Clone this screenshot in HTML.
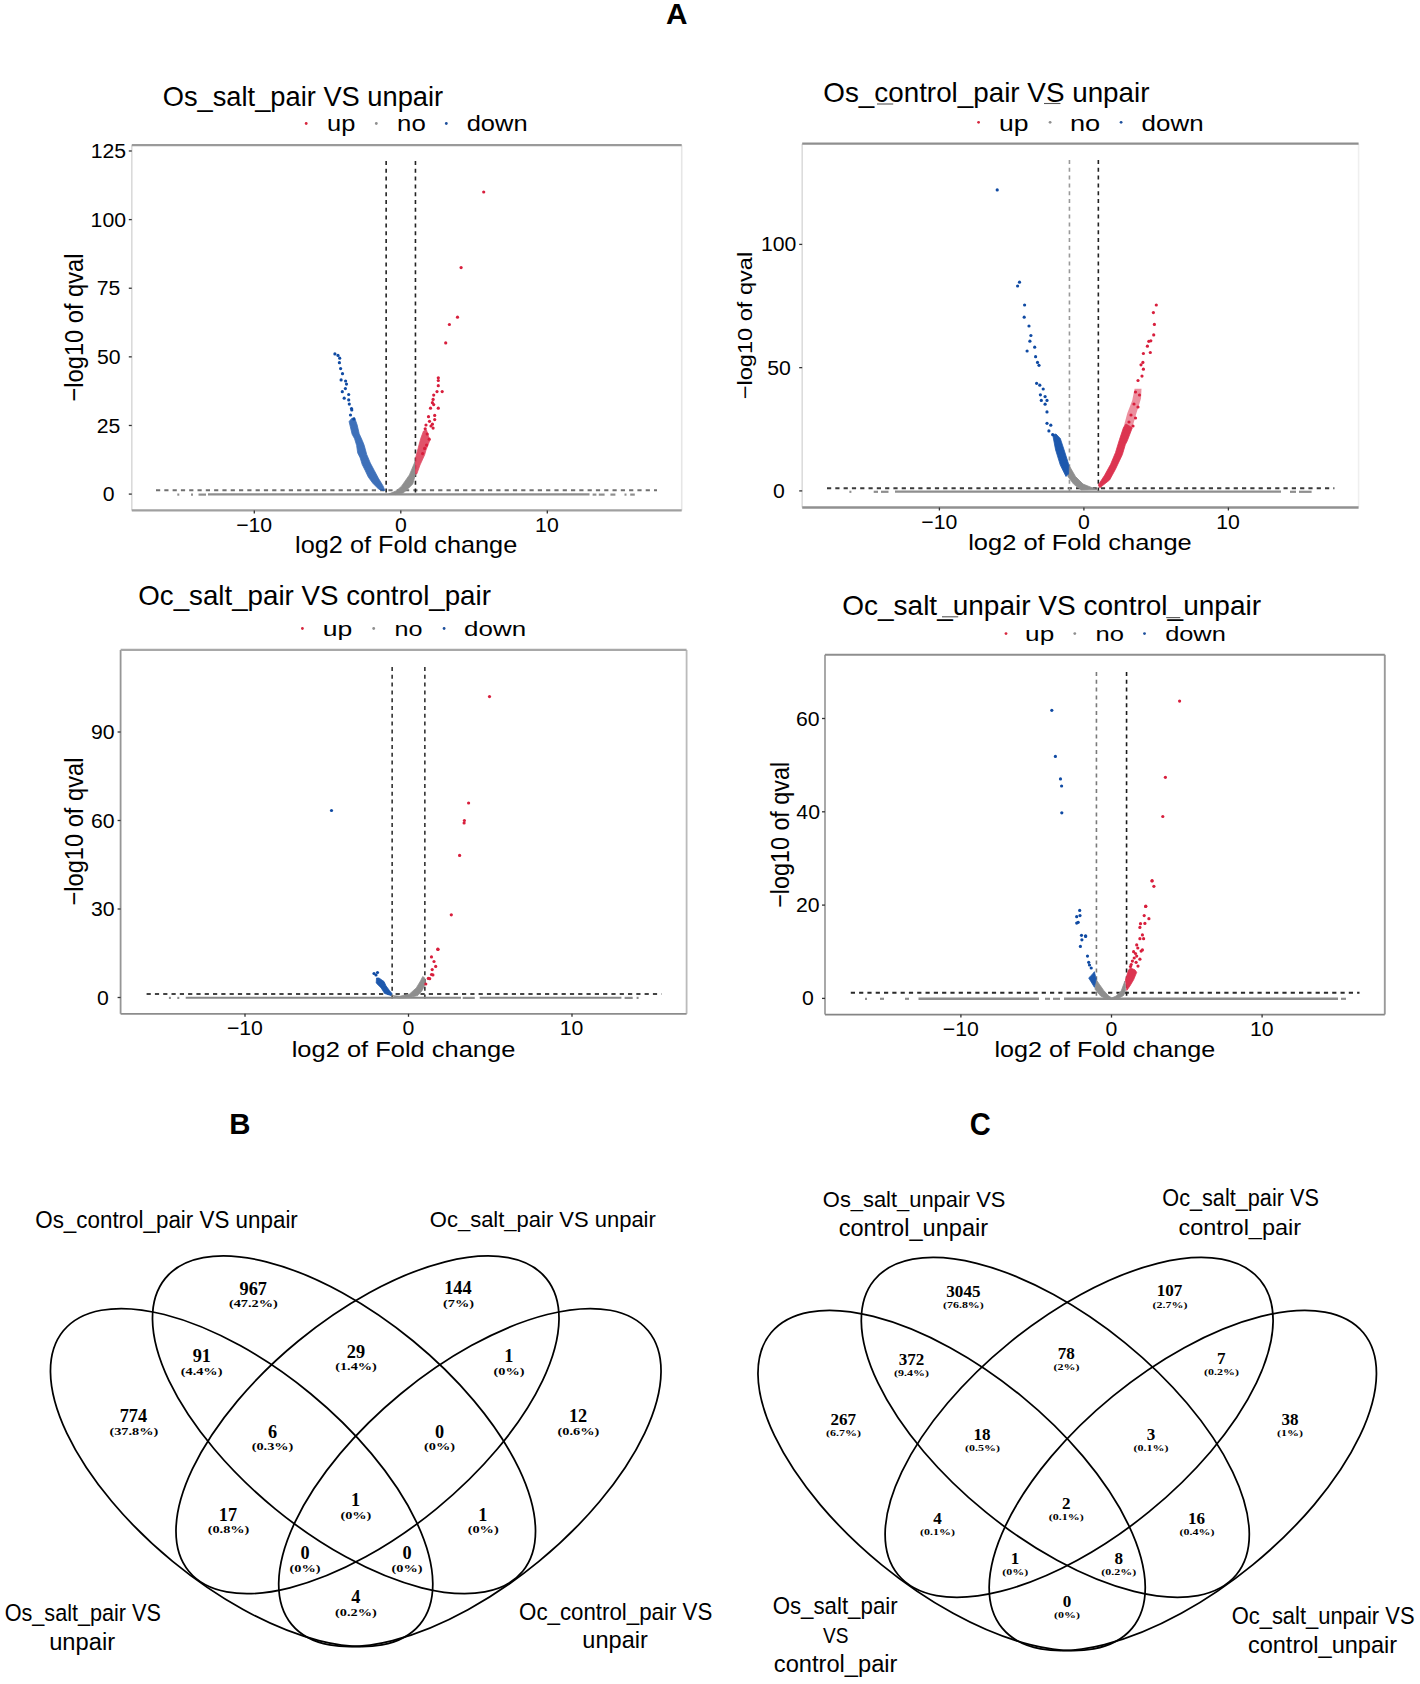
<!DOCTYPE html>
<html><head><meta charset="utf-8"><title>Figure</title>
<style>html,body{margin:0;padding:0;background:#fff;overflow:hidden;}svg{display:block;}</style></head>
<body><svg width="1420" height="1684" viewBox="0 0 1420 1684">
<rect width="1420" height="1684" fill="#fff"/>
<text transform="translate(666.06,23.90) scale(1.0005,1)" font-family='"Liberation Sans", sans-serif' font-size="29.80" font-weight="bold" fill="#000">A</text>
<text transform="translate(229.14,1134.30) scale(0.9899,1)" font-family='"Liberation Sans", sans-serif' font-size="29.65" font-weight="bold" fill="#000">B</text>
<text transform="translate(969.81,1134.70) scale(0.9482,1)" font-family='"Liberation Sans", sans-serif' font-size="30.65" font-weight="bold" fill="#000">C</text>
<line x1="131.8" y1="145.2" x2="131.8" y2="510.4" stroke="#dadada" stroke-width="1.6"/>
<line x1="681.7" y1="145.2" x2="681.7" y2="510.4" stroke="#e6e6e6" stroke-width="1.6"/>
<line x1="131.8" y1="145.2" x2="681.7" y2="145.2" stroke="#9a9a9a" stroke-width="2.3"/>
<line x1="131.8" y1="510.4" x2="681.7" y2="510.4" stroke="#a0a0a0" stroke-width="2.3"/>
<line x1="128.8" y1="494.10" x2="131.8" y2="494.10" stroke="#333" stroke-width="1.3"/>
<text transform="translate(102.80,501.17) scale(1.0500,1)" font-family='"Liberation Sans", sans-serif' font-size="20.20" fill="#000">0</text>
<line x1="128.8" y1="425.48" x2="131.8" y2="425.48" stroke="#333" stroke-width="1.3"/>
<text transform="translate(96.82,432.55) scale(1.0500,1)" font-family='"Liberation Sans", sans-serif' font-size="20.20" fill="#000">25</text>
<line x1="128.8" y1="356.85" x2="131.8" y2="356.85" stroke="#333" stroke-width="1.3"/>
<text transform="translate(96.89,363.92) scale(1.0500,1)" font-family='"Liberation Sans", sans-serif' font-size="20.20" fill="#000">50</text>
<line x1="128.8" y1="288.23" x2="131.8" y2="288.23" stroke="#333" stroke-width="1.3"/>
<text transform="translate(96.81,295.30) scale(1.0500,1)" font-family='"Liberation Sans", sans-serif' font-size="20.20" fill="#000">75</text>
<line x1="128.8" y1="219.60" x2="131.8" y2="219.60" stroke="#333" stroke-width="1.3"/>
<text transform="translate(90.61,226.67) scale(1.0500,1)" font-family='"Liberation Sans", sans-serif' font-size="20.20" fill="#000">100</text>
<line x1="128.8" y1="150.98" x2="131.8" y2="150.98" stroke="#333" stroke-width="1.3"/>
<text transform="translate(90.64,158.05) scale(1.0500,1)" font-family='"Liberation Sans", sans-serif' font-size="20.20" fill="#000">125</text>
<line x1="254.30" y1="510.4" x2="254.30" y2="513.4" stroke="#333" stroke-width="1.3"/>
<text transform="translate(236.20,532.30) scale(1.0500,1)" font-family='"Liberation Sans", sans-serif' font-size="20.20" fill="#000">−10</text>
<line x1="400.80" y1="510.4" x2="400.80" y2="513.4" stroke="#333" stroke-width="1.3"/>
<text transform="translate(394.90,532.30) scale(1.0500,1)" font-family='"Liberation Sans", sans-serif' font-size="20.20" fill="#000">0</text>
<line x1="547.30" y1="510.4" x2="547.30" y2="513.4" stroke="#333" stroke-width="1.3"/>
<text transform="translate(535.11,532.30) scale(1.0500,1)" font-family='"Liberation Sans", sans-serif' font-size="20.20" fill="#000">10</text>
<line x1="156" y1="490.3" x2="657" y2="490.3" stroke="#707070" stroke-width="1.9" stroke-dasharray="4.2 4.1"/>
<line x1="386.15" y1="161" x2="386.15" y2="495.1" stroke="#222" stroke-width="1.6" stroke-dasharray="4 3.8"/>
<line x1="415.45" y1="161" x2="415.45" y2="495.1" stroke="#222" stroke-width="1.6" stroke-dasharray="4 3.8"/>
<line x1="208" y1="494.4" x2="589.5" y2="494.4" stroke="#8e8e8e" stroke-width="2.4"/><line x1="592.6" y1="494.6" x2="596.4" y2="494.6" stroke="#8e8e8e" stroke-width="2.2"/><line x1="598.8" y1="494.6" x2="604.6" y2="494.6" stroke="#8e8e8e" stroke-width="2.2"/><line x1="610.4" y1="494.6" x2="615.4" y2="494.6" stroke="#8e8e8e" stroke-width="2.2"/><line x1="624.5" y1="494.6" x2="626.5" y2="494.6" stroke="#8e8e8e" stroke-width="2.2"/><line x1="630.2" y1="494.6" x2="634.8" y2="494.6" stroke="#8e8e8e" stroke-width="2.2"/><line x1="177.3" y1="494.6" x2="179.3" y2="494.6" stroke="#8e8e8e" stroke-width="2.2"/><line x1="191" y1="494.6" x2="193" y2="494.6" stroke="#8e8e8e" stroke-width="2.2"/><line x1="198.5" y1="494.6" x2="206" y2="494.6" stroke="#8e8e8e" stroke-width="2.2"/><polygon points="388.6,494.1 396.5,490.7 401.5,486.2 409.4,474.9 415.1,461.4 415.6,473.8 412.8,483.9 408.3,488.5 403.2,493.0 396.0,494.6" fill="#8e8e8e" stroke="#8e8e8e" stroke-width="0.8" stroke-linejoin="round" opacity="1"/><polygon points="349.1,421.6 352.1,434.2 354.6,438.8 356.6,445.3 357.7,452.9 360.2,457.9 362.2,464.5 365.2,470.5 368.3,477.1 372.8,483.2 378.8,489.2 382.9,490.7 384.8,490.5 384.4,489.2 382.9,485.7 378.3,478.1 374.3,470.5 370.3,463.0 366.7,454.4 364.2,445.3 362.2,440.3 359.2,433.7 357.2,425.1 354.6,417.6 351.5,418.5" fill="#1d58ad" stroke="#1d58ad" stroke-width="0.8" stroke-linejoin="round" opacity="0.85"/><circle cx="334.9" cy="353.9" r="1.6" fill="#0f4aa3"/><circle cx="338.0" cy="355.4" r="1.6" fill="#0f4aa3"/><circle cx="339.7" cy="358.2" r="1.6" fill="#0f4aa3"/><circle cx="339.4" cy="362.7" r="1.6" fill="#0f4aa3"/><circle cx="340.6" cy="368.6" r="1.6" fill="#0f4aa3"/><circle cx="342.5" cy="373.7" r="1.6" fill="#0f4aa3"/><circle cx="341.1" cy="379.9" r="1.6" fill="#0f4aa3"/><circle cx="345.6" cy="381.0" r="1.6" fill="#0f4aa3"/><circle cx="346.5" cy="384.1" r="1.6" fill="#0f4aa3"/><circle cx="345.4" cy="388.6" r="1.6" fill="#0f4aa3"/><circle cx="342.3" cy="391.7" r="1.6" fill="#0f4aa3"/><circle cx="348.7" cy="394.5" r="1.6" fill="#0f4aa3"/><circle cx="344.2" cy="398.2" r="1.6" fill="#0f4aa3"/><circle cx="348.7" cy="399.9" r="1.6" fill="#0f4aa3"/><circle cx="349.3" cy="404.1" r="1.6" fill="#0f4aa3"/><circle cx="351.5" cy="408.6" r="1.6" fill="#0f4aa3"/><circle cx="351.8" cy="410.0" r="1.6" fill="#0f4aa3"/><circle cx="353.8" cy="419.0" r="1.6" fill="#0f4aa3"/><circle cx="350.5" cy="415.0" r="1.6" fill="#0f4aa3"/><polygon points="415.5,474.0 415.5,458.2 418.1,448.4 420.7,438.6 423.5,431.0 426.5,430.0 429.8,440.5 426.0,450.0 424.6,454.9 420.0,465.0 416.8,473.9" fill="#dc3450" stroke="#dc3450" stroke-width="0.8" stroke-linejoin="round" opacity="0.85"/><circle cx="438.3" cy="377.8" r="1.6" fill="#d81e3c"/><circle cx="438.3" cy="380.5" r="1.6" fill="#d81e3c"/><circle cx="438.3" cy="385.7" r="1.6" fill="#d81e3c"/><circle cx="442.2" cy="391.6" r="1.6" fill="#d81e3c"/><circle cx="437.0" cy="391.6" r="1.6" fill="#d81e3c"/><circle cx="433.7" cy="395.1" r="1.6" fill="#d81e3c"/><circle cx="433.1" cy="399.4" r="1.6" fill="#d81e3c"/><circle cx="432.4" cy="402.7" r="1.6" fill="#d81e3c"/><circle cx="433.7" cy="404.6" r="1.6" fill="#d81e3c"/><circle cx="430.5" cy="408.2" r="1.6" fill="#d81e3c"/><circle cx="438.3" cy="408.2" r="1.6" fill="#d81e3c"/><circle cx="434.7" cy="415.4" r="1.6" fill="#d81e3c"/><circle cx="428.5" cy="416.7" r="1.6" fill="#d81e3c"/><circle cx="434.7" cy="419.6" r="1.6" fill="#d81e3c"/><circle cx="429.5" cy="421.3" r="1.6" fill="#d81e3c"/><circle cx="432.4" cy="424.2" r="1.6" fill="#d81e3c"/><circle cx="433.1" cy="428.1" r="1.6" fill="#d81e3c"/><circle cx="425.2" cy="428.8" r="1.6" fill="#d81e3c"/><circle cx="427.2" cy="434.0" r="1.6" fill="#d81e3c"/><circle cx="429.2" cy="439.2" r="1.6" fill="#d81e3c"/><circle cx="426.6" cy="445.1" r="1.6" fill="#d81e3c"/><circle cx="424.6" cy="448.4" r="1.6" fill="#d81e3c"/><circle cx="422.6" cy="453.6" r="1.6" fill="#d81e3c"/><circle cx="431.0" cy="426.0" r="1.6" fill="#d81e3c"/><circle cx="426.0" cy="425.0" r="1.6" fill="#d81e3c"/><circle cx="445.7" cy="342.9" r="1.6" fill="#d81e3c"/><circle cx="449.4" cy="324.5" r="1.6" fill="#d81e3c"/><circle cx="457.5" cy="317.2" r="1.6" fill="#d81e3c"/><circle cx="461.1" cy="267.6" r="1.6" fill="#d81e3c"/><circle cx="483.7" cy="192.0" r="1.6" fill="#d81e3c"/>
<text transform="translate(162.71,105.90) scale(0.9835,1)" font-family='"Liberation Sans", sans-serif' font-size="27.74" fill="#000">Os_salt_pair VS unpair</text>
<circle cx="306.2" cy="123.5" r="1.4" fill="#d7263d"/>
<circle cx="376.3" cy="123.5" r="1.4" fill="#8f8f8f"/>
<circle cx="446.3" cy="123.5" r="1.4" fill="#1d4f9c"/>
<text transform="translate(327.05,131.40) scale(1.1389,1)" font-family='"Liberation Sans", sans-serif' font-size="22.36" fill="#000">up</text>
<text transform="translate(397.09,131.40) scale(1.1541,1)" font-family='"Liberation Sans", sans-serif' font-size="22.35" fill="#000">no</text>
<text transform="translate(466.73,131.40) scale(1.1380,1)" font-family='"Liberation Sans", sans-serif' font-size="22.36" fill="#000">down</text>
<text transform="translate(295.10,553.00) scale(1.0535,1)" font-family='"Liberation Sans", sans-serif' font-size="24.01" fill="#000">log2 of Fold change</text>
<text transform="translate(83.30,401.47) scale(1.1195,1) rotate(-90)" font-family='"Liberation Sans", sans-serif' font-size="23.67" fill="#000">−log10 of qval</text>
<line x1="802.2" y1="143.7" x2="802.2" y2="507.5" stroke="#dcdcdc" stroke-width="1.6"/>
<line x1="1358.6" y1="143.7" x2="1358.6" y2="507.5" stroke="#efefef" stroke-width="1.6"/>
<line x1="802.2" y1="143.7" x2="1358.6" y2="143.7" stroke="#8f8f8f" stroke-width="2.3"/>
<line x1="802.2" y1="507.5" x2="1358.6" y2="507.5" stroke="#909090" stroke-width="2.3"/>
<line x1="799.2" y1="490.90" x2="802.2" y2="490.90" stroke="#333" stroke-width="1.3"/>
<text transform="translate(773.10,497.97) scale(1.0500,1)" font-family='"Liberation Sans", sans-serif' font-size="20.20" fill="#000">0</text>
<line x1="799.2" y1="367.65" x2="802.2" y2="367.65" stroke="#333" stroke-width="1.3"/>
<text transform="translate(767.19,374.72) scale(1.0500,1)" font-family='"Liberation Sans", sans-serif' font-size="20.20" fill="#000">50</text>
<line x1="799.2" y1="244.40" x2="802.2" y2="244.40" stroke="#333" stroke-width="1.3"/>
<text transform="translate(760.91,251.47) scale(1.0500,1)" font-family='"Liberation Sans", sans-serif' font-size="20.20" fill="#000">100</text>
<line x1="939.40" y1="507.5" x2="939.40" y2="510.5" stroke="#333" stroke-width="1.3"/>
<text transform="translate(921.30,529.30) scale(1.0500,1)" font-family='"Liberation Sans", sans-serif' font-size="20.20" fill="#000">−10</text>
<line x1="1083.90" y1="507.5" x2="1083.90" y2="510.5" stroke="#333" stroke-width="1.3"/>
<text transform="translate(1078.00,529.30) scale(1.0500,1)" font-family='"Liberation Sans", sans-serif' font-size="20.20" fill="#000">0</text>
<line x1="1228.40" y1="507.5" x2="1228.40" y2="510.5" stroke="#333" stroke-width="1.3"/>
<text transform="translate(1216.21,529.30) scale(1.0500,1)" font-family='"Liberation Sans", sans-serif' font-size="20.20" fill="#000">10</text>
<line x1="827" y1="488.2" x2="1334.4" y2="488.2" stroke="#3a3a3a" stroke-width="1.9" stroke-dasharray="4.2 4.1"/>
<line x1="1069.45" y1="160" x2="1069.45" y2="491.9" stroke="#9a9a9a" stroke-width="1.6" stroke-dasharray="4 3.8"/>
<line x1="1098.35" y1="160" x2="1098.35" y2="491.9" stroke="#222" stroke-width="1.6" stroke-dasharray="4 3.8"/>
<line x1="895" y1="491.6" x2="1281" y2="491.6" stroke="#8e8e8e" stroke-width="2.4"/><line x1="849.4" y1="491.8" x2="851.4" y2="491.8" stroke="#8e8e8e" stroke-width="2.2"/><line x1="873.7" y1="491.8" x2="878" y2="491.8" stroke="#8e8e8e" stroke-width="2.2"/><line x1="881" y1="491.8" x2="888.5" y2="491.8" stroke="#8e8e8e" stroke-width="2.2"/><line x1="1290" y1="491.8" x2="1296" y2="491.8" stroke="#8e8e8e" stroke-width="2.2"/><line x1="1299" y1="491.8" x2="1311.6" y2="491.8" stroke="#8e8e8e" stroke-width="2.2"/><polygon points="1068.9,465.1 1075.5,476.5 1083.1,484.1 1092.6,487.9 1097.0,489.5 1081.2,490.0 1073.6,484.1 1067.9,476.5" fill="#8e8e8e" stroke="#8e8e8e" stroke-width="0.8" stroke-linejoin="round" opacity="1"/><polygon points="1052.7,434.7 1055.6,449.9 1060.3,465.1 1066.0,476.5 1068.5,474.0 1068.9,465.1 1064.1,449.9 1060.3,438.5 1056.0,434.0" fill="#1d58ad" stroke="#1d58ad" stroke-width="0.8" stroke-linejoin="round" opacity="1"/><circle cx="997.2" cy="189.9" r="1.6" fill="#0f4aa3"/><circle cx="1019.5" cy="282.2" r="1.6" fill="#0f4aa3"/><circle cx="1017.6" cy="286.0" r="1.6" fill="#0f4aa3"/><circle cx="1024.6" cy="305.0" r="1.6" fill="#0f4aa3"/><circle cx="1024.2" cy="317.2" r="1.6" fill="#0f4aa3"/><circle cx="1029.0" cy="326.0" r="1.6" fill="#0f4aa3"/><circle cx="1030.9" cy="335.5" r="1.6" fill="#0f4aa3"/><circle cx="1029.9" cy="341.2" r="1.6" fill="#0f4aa3"/><circle cx="1034.7" cy="347.2" r="1.6" fill="#0f4aa3"/><circle cx="1027.1" cy="351.0" r="1.6" fill="#0f4aa3"/><circle cx="1035.6" cy="356.7" r="1.6" fill="#0f4aa3"/><circle cx="1037.5" cy="362.4" r="1.6" fill="#0f4aa3"/><circle cx="1039.0" cy="365.3" r="1.6" fill="#0f4aa3"/><circle cx="1036.6" cy="383.3" r="1.6" fill="#0f4aa3"/><circle cx="1039.8" cy="385.2" r="1.6" fill="#0f4aa3"/><circle cx="1043.2" cy="389.0" r="1.6" fill="#0f4aa3"/><circle cx="1040.4" cy="394.8" r="1.6" fill="#0f4aa3"/><circle cx="1045.1" cy="396.6" r="1.6" fill="#0f4aa3"/><circle cx="1041.3" cy="400.4" r="1.6" fill="#0f4aa3"/><circle cx="1047.0" cy="400.4" r="1.6" fill="#0f4aa3"/><circle cx="1045.1" cy="404.2" r="1.6" fill="#0f4aa3"/><circle cx="1047.0" cy="411.9" r="1.6" fill="#0f4aa3"/><circle cx="1047.0" cy="423.3" r="1.6" fill="#0f4aa3"/><circle cx="1050.8" cy="425.2" r="1.6" fill="#0f4aa3"/><circle cx="1048.9" cy="430.9" r="1.6" fill="#0f4aa3"/><circle cx="1052.7" cy="434.7" r="1.6" fill="#0f4aa3"/><polygon points="1098.3,484.9 1104.7,475.1 1110.6,464.3 1115.5,452.5 1119.4,439.8 1123.3,428.0 1126.0,424.0 1129.5,426.0 1132.2,428.0 1127.3,440.8 1125.3,444.7 1122.4,454.5 1115.5,469.2 1109.6,480.0 1099.8,487.8" fill="#dc3450" stroke="#dc3450" stroke-width="0.8" stroke-linejoin="round" opacity="1"/><polygon points="1123.3,428 1127.3,413.3 1132.2,400.6 1134.6,388.8 1141.5,388.8 1141,398.6 1136.1,414.3 1132.2,428" fill="#dc3450" opacity="0.55"/><circle cx="1138.0" cy="380.5" r="1.6" fill="#d81e3c"/><circle cx="1142.0" cy="376.1" r="1.6" fill="#d81e3c"/><circle cx="1143.4" cy="369.2" r="1.6" fill="#d81e3c"/><circle cx="1141.0" cy="364.8" r="1.6" fill="#d81e3c"/><circle cx="1142.9" cy="362.4" r="1.6" fill="#d81e3c"/><circle cx="1143.4" cy="353.5" r="1.6" fill="#d81e3c"/><circle cx="1147.4" cy="346.2" r="1.6" fill="#d81e3c"/><circle cx="1150.3" cy="352.5" r="1.6" fill="#d81e3c"/><circle cx="1150.8" cy="340.8" r="1.6" fill="#d81e3c"/><circle cx="1153.7" cy="334.9" r="1.6" fill="#d81e3c"/><circle cx="1148.8" cy="341.3" r="1.6" fill="#d81e3c"/><circle cx="1154.4" cy="324.4" r="1.6" fill="#d81e3c"/><circle cx="1153.4" cy="312.6" r="1.6" fill="#d81e3c"/><circle cx="1156.3" cy="305.0" r="1.6" fill="#d81e3c"/><circle cx="1135.5" cy="392.0" r="1.6" fill="#d81e3c"/><circle cx="1139.5" cy="395.0" r="1.6" fill="#d81e3c"/><circle cx="1134.0" cy="404.0" r="1.6" fill="#d81e3c"/><circle cx="1138.0" cy="407.0" r="1.6" fill="#d81e3c"/><circle cx="1131.0" cy="415.0" r="1.6" fill="#d81e3c"/><circle cx="1135.5" cy="418.0" r="1.6" fill="#d81e3c"/><circle cx="1129.0" cy="422.0" r="1.6" fill="#d81e3c"/><circle cx="1133.0" cy="426.0" r="1.6" fill="#d81e3c"/>
<text transform="translate(823.28,101.80) scale(0.9836,1)" font-family='"Liberation Sans", sans-serif' font-size="28.29" fill="#000">Os_control_pair VS unpair</text>
<circle cx="978.6" cy="122.3" r="1.4" fill="#d7263d"/>
<circle cx="1050.1" cy="122.3" r="1.4" fill="#8f8f8f"/>
<circle cx="1121.1" cy="122.3" r="1.4" fill="#1d4f9c"/>
<text transform="translate(998.98,130.60) scale(1.1806,1)" font-family='"Liberation Sans", sans-serif' font-size="22.50" fill="#000">up</text>
<text transform="translate(1069.89,130.60) scale(1.2091,1)" font-family='"Liberation Sans", sans-serif' font-size="22.49" fill="#000">no</text>
<text transform="translate(1141.61,130.60) scale(1.1524,1)" font-family='"Liberation Sans", sans-serif' font-size="22.49" fill="#000">down</text>
<text transform="translate(968.18,550.40) scale(1.1388,1)" font-family='"Liberation Sans", sans-serif' font-size="22.36" fill="#000">log2 of Fold change</text>
<text transform="translate(752.00,399.26) scale(0.8717,1) rotate(-90)" font-family='"Liberation Sans", sans-serif' font-size="23.59" fill="#000">−log10 of qval</text>
<line x1="120.6" y1="649.9" x2="120.6" y2="1013.8" stroke="#969696" stroke-width="1.8"/>
<line x1="686.6" y1="649.9" x2="686.6" y2="1013.8" stroke="#bbbbbb" stroke-width="1.8"/>
<line x1="120.6" y1="649.9" x2="686.6" y2="649.9" stroke="#a8a8a8" stroke-width="2.1"/>
<line x1="120.6" y1="1013.8" x2="686.6" y2="1013.8" stroke="#8c8c8c" stroke-width="1.7"/>
<line x1="117.6" y1="997.50" x2="120.6" y2="997.50" stroke="#333" stroke-width="1.3"/>
<text transform="translate(96.90,1004.57) scale(1.0500,1)" font-family='"Liberation Sans", sans-serif' font-size="20.20" fill="#000">0</text>
<line x1="117.6" y1="909.00" x2="120.6" y2="909.00" stroke="#333" stroke-width="1.3"/>
<text transform="translate(91.01,916.07) scale(1.0500,1)" font-family='"Liberation Sans", sans-serif' font-size="20.20" fill="#000">30</text>
<line x1="117.6" y1="820.50" x2="120.6" y2="820.50" stroke="#333" stroke-width="1.3"/>
<text transform="translate(90.88,827.57) scale(1.0500,1)" font-family='"Liberation Sans", sans-serif' font-size="20.20" fill="#000">60</text>
<line x1="117.6" y1="732.00" x2="120.6" y2="732.00" stroke="#333" stroke-width="1.3"/>
<text transform="translate(90.92,739.07) scale(1.0500,1)" font-family='"Liberation Sans", sans-serif' font-size="20.20" fill="#000">90</text>
<line x1="245.00" y1="1013.8" x2="245.00" y2="1016.8" stroke="#333" stroke-width="1.3"/>
<text transform="translate(226.90,1035.40) scale(1.0500,1)" font-family='"Liberation Sans", sans-serif' font-size="20.20" fill="#000">−10</text>
<line x1="408.50" y1="1013.8" x2="408.50" y2="1016.8" stroke="#333" stroke-width="1.3"/>
<text transform="translate(402.60,1035.40) scale(1.0500,1)" font-family='"Liberation Sans", sans-serif' font-size="20.20" fill="#000">0</text>
<line x1="572.00" y1="1013.8" x2="572.00" y2="1016.8" stroke="#333" stroke-width="1.3"/>
<text transform="translate(559.81,1035.40) scale(1.0500,1)" font-family='"Liberation Sans", sans-serif' font-size="20.20" fill="#000">10</text>
<line x1="146.6" y1="994.0" x2="661.5" y2="994.0" stroke="#444" stroke-width="1.9" stroke-dasharray="4.2 4.1"/>
<line x1="392.15" y1="667" x2="392.15" y2="998.5" stroke="#333" stroke-width="1.6" stroke-dasharray="4 3.8"/>
<line x1="424.85" y1="667" x2="424.85" y2="998.5" stroke="#333" stroke-width="1.6" stroke-dasharray="4 3.8"/>
<line x1="185.7" y1="997.8" x2="461" y2="997.8" stroke="#868686" stroke-width="1.9"/><line x1="479.7" y1="997.8" x2="621.4" y2="997.8" stroke="#868686" stroke-width="1.9"/><line x1="462.7" y1="997.9" x2="474.8" y2="997.9" stroke="#8e8e8e" stroke-width="2.2"/><line x1="624.6" y1="997.9" x2="632.7" y2="997.9" stroke="#8e8e8e" stroke-width="2.2"/><line x1="636.6" y1="997.9" x2="638.6" y2="997.9" stroke="#8e8e8e" stroke-width="2.2"/><line x1="168.9" y1="997.9" x2="170.9" y2="997.9" stroke="#8e8e8e" stroke-width="2.2"/><line x1="177.3" y1="997.9" x2="179.3" y2="997.9" stroke="#8e8e8e" stroke-width="2.2"/><polygon points="392.4,995.6 399.4,996.3 409.3,994.2 416.3,987.9 420.6,980.8 422.7,976.6 424.8,978.0 424.8,985.1 422.0,990.7 417.7,995.6 409.3,997.5 398.0,998.0" fill="#8e8e8e" stroke="#8e8e8e" stroke-width="0.8" stroke-linejoin="round" opacity="1"/><polygon points="376.5,978.0 379.0,978.0 384.0,981.5 386.0,985.8 389.6,990.7 392.0,993.5 391.0,995.5 384.6,993.5 381.1,987.9 376.2,983.0" fill="#1d58ad" stroke="#1d58ad" stroke-width="0.8" stroke-linejoin="round" opacity="1"/><circle cx="374.0" cy="973.5" r="1.6" fill="#0f4aa3"/><circle cx="377.5" cy="972.5" r="1.6" fill="#0f4aa3"/><circle cx="376.0" cy="975.0" r="1.6" fill="#0f4aa3"/><circle cx="331.5" cy="810.5" r="1.6" fill="#0f4aa3"/><circle cx="437.8" cy="949.2" r="1.6" fill="#d81e3c"/><circle cx="431.5" cy="956.9" r="1.6" fill="#d81e3c"/><circle cx="434.0" cy="961.5" r="1.6" fill="#d81e3c"/><circle cx="435.7" cy="966.4" r="1.6" fill="#d81e3c"/><circle cx="432.2" cy="969.6" r="1.6" fill="#d81e3c"/><circle cx="431.5" cy="974.5" r="1.6" fill="#d81e3c"/><circle cx="432.9" cy="974.9" r="1.6" fill="#d81e3c"/><circle cx="428.3" cy="978.4" r="1.6" fill="#d81e3c"/><circle cx="429.7" cy="978.7" r="1.6" fill="#d81e3c"/><circle cx="425.8" cy="984.0" r="1.6" fill="#d81e3c"/><circle cx="489.5" cy="696.6" r="1.6" fill="#d81e3c"/><circle cx="468.6" cy="803.0" r="1.6" fill="#d81e3c"/><circle cx="464.4" cy="820.5" r="1.6" fill="#d81e3c"/><circle cx="464.1" cy="823.0" r="1.6" fill="#d81e3c"/><circle cx="459.6" cy="855.4" r="1.6" fill="#d81e3c"/><circle cx="451.3" cy="914.8" r="1.6" fill="#d81e3c"/><circle cx="438.0" cy="949.4" r="1.6" fill="#d81e3c"/>
<text transform="translate(138.29,605.30) scale(0.9844,1)" font-family='"Liberation Sans", sans-serif' font-size="28.15" fill="#000">Oc_salt_pair VS control_pair</text>
<circle cx="302.4" cy="628.5" r="1.4" fill="#d7263d"/>
<circle cx="373.7" cy="628.5" r="1.4" fill="#8f8f8f"/>
<circle cx="444.1" cy="628.5" r="1.4" fill="#1d4f9c"/>
<text transform="translate(322.68,636.30) scale(1.3745,1)" font-family='"Liberation Sans", sans-serif' font-size="19.32" fill="#000">up</text>
<text transform="translate(394.53,636.30) scale(1.3046,1)" font-family='"Liberation Sans", sans-serif' font-size="19.32" fill="#000">no</text>
<text transform="translate(464.11,636.30) scale(1.3417,1)" font-family='"Liberation Sans", sans-serif' font-size="19.32" fill="#000">down</text>
<text transform="translate(291.68,1056.70) scale(1.1464,1)" font-family='"Liberation Sans", sans-serif' font-size="22.22" fill="#000">log2 of Fold change</text>
<text transform="translate(83.00,905.57) scale(1.1020,1) rotate(-90)" font-family='"Liberation Sans", sans-serif' font-size="23.67" fill="#000">−log10 of qval</text>
<line x1="825.0" y1="654.8" x2="825.0" y2="1014.6" stroke="#939393" stroke-width="1.6"/>
<line x1="1384.8" y1="654.8" x2="1384.8" y2="1014.6" stroke="#9a9a9a" stroke-width="1.9"/>
<line x1="825.0" y1="654.8" x2="1384.8" y2="654.8" stroke="#8e8e8e" stroke-width="2.0"/>
<line x1="825.0" y1="1014.6" x2="1384.8" y2="1014.6" stroke="#858585" stroke-width="1.8"/>
<line x1="822.0" y1="998.40" x2="825.0" y2="998.40" stroke="#333" stroke-width="1.3"/>
<text transform="translate(802.10,1005.47) scale(1.0500,1)" font-family='"Liberation Sans", sans-serif' font-size="20.20" fill="#000">0</text>
<line x1="822.0" y1="905.10" x2="825.0" y2="905.10" stroke="#333" stroke-width="1.3"/>
<text transform="translate(796.08,912.17) scale(1.0500,1)" font-family='"Liberation Sans", sans-serif' font-size="20.20" fill="#000">20</text>
<line x1="822.0" y1="811.80" x2="825.0" y2="811.80" stroke="#333" stroke-width="1.3"/>
<text transform="translate(796.37,818.87) scale(1.0500,1)" font-family='"Liberation Sans", sans-serif' font-size="20.20" fill="#000">40</text>
<line x1="822.0" y1="718.50" x2="825.0" y2="718.50" stroke="#333" stroke-width="1.3"/>
<text transform="translate(796.08,725.57) scale(1.0500,1)" font-family='"Liberation Sans", sans-serif' font-size="20.20" fill="#000">60</text>
<line x1="960.90" y1="1014.6" x2="960.90" y2="1017.6" stroke="#333" stroke-width="1.3"/>
<text transform="translate(942.80,1035.80) scale(1.0500,1)" font-family='"Liberation Sans", sans-serif' font-size="20.20" fill="#000">−10</text>
<line x1="1111.50" y1="1014.6" x2="1111.50" y2="1017.6" stroke="#333" stroke-width="1.3"/>
<text transform="translate(1105.60,1035.80) scale(1.0500,1)" font-family='"Liberation Sans", sans-serif' font-size="20.20" fill="#000">0</text>
<line x1="1262.10" y1="1014.6" x2="1262.10" y2="1017.6" stroke="#333" stroke-width="1.3"/>
<text transform="translate(1249.91,1035.80) scale(1.0500,1)" font-family='"Liberation Sans", sans-serif' font-size="20.20" fill="#000">10</text>
<line x1="850.8" y1="992.8" x2="1359.5" y2="992.8" stroke="#2a2a2a" stroke-width="1.9" stroke-dasharray="4.2 4.1"/>
<line x1="1096.44" y1="672" x2="1096.44" y2="999.4" stroke="#7a7a7a" stroke-width="1.6" stroke-dasharray="4 3.8"/>
<line x1="1126.56" y1="672" x2="1126.56" y2="999.4" stroke="#1a1a1a" stroke-width="1.6" stroke-dasharray="4 3.8"/>
<line x1="918.5" y1="998.7" x2="1039" y2="998.7" stroke="#8e8e8e" stroke-width="2.4"/><line x1="1064" y1="998.7" x2="1338" y2="998.7" stroke="#8e8e8e" stroke-width="2.4"/><line x1="1045" y1="998.8" x2="1050" y2="998.8" stroke="#8e8e8e" stroke-width="2.2"/><line x1="1053" y1="998.8" x2="1060" y2="998.8" stroke="#8e8e8e" stroke-width="2.2"/><line x1="865" y1="998.8" x2="867" y2="998.8" stroke="#8e8e8e" stroke-width="2.2"/><line x1="880" y1="998.8" x2="884" y2="998.8" stroke="#8e8e8e" stroke-width="2.2"/><line x1="905" y1="998.8" x2="909" y2="998.8" stroke="#8e8e8e" stroke-width="2.2"/><line x1="1341" y1="998.8" x2="1346" y2="998.8" stroke="#8e8e8e" stroke-width="2.2"/><polygon points="1095.9,979.2 1099.3,984.2 1103.7,990.4 1108.7,996.0 1111.8,997.9 1116.2,996.0 1121.2,991.0 1124.9,981.0 1125.5,990.4 1123.7,995.4 1119.3,997.9 1113.1,999.1 1105.6,998.5 1100.6,996.0 1095.0,989.2" fill="#8e8e8e" stroke="#8e8e8e" stroke-width="0.8" stroke-linejoin="round" opacity="1"/><polygon points="1094.4,971.7 1095.6,976.7 1096.2,978.6 1094.4,987.3 1088.7,977.9 1091.9,974.8" fill="#1d58ad" stroke="#1d58ad" stroke-width="0.8" stroke-linejoin="round" opacity="1"/><circle cx="1079.7" cy="910.4" r="1.6" fill="#0f4aa3"/><circle cx="1080.0" cy="915.6" r="1.6" fill="#0f4aa3"/><circle cx="1076.7" cy="916.7" r="1.6" fill="#0f4aa3"/><circle cx="1078.2" cy="922.3" r="1.6" fill="#0f4aa3"/><circle cx="1076.7" cy="923.1" r="1.6" fill="#0f4aa3"/><circle cx="1081.5" cy="935.3" r="1.6" fill="#0f4aa3"/><circle cx="1085.6" cy="936.4" r="1.6" fill="#0f4aa3"/><circle cx="1081.9" cy="939.8" r="1.6" fill="#0f4aa3"/><circle cx="1080.4" cy="946.4" r="1.6" fill="#0f4aa3"/><circle cx="1087.5" cy="956.1" r="1.6" fill="#0f4aa3"/><circle cx="1088.7" cy="962.3" r="1.6" fill="#0f4aa3"/><circle cx="1091.2" cy="968.0" r="1.6" fill="#0f4aa3"/><circle cx="1089.5" cy="965.0" r="1.6" fill="#0f4aa3"/><circle cx="1085.6" cy="935.8" r="1.6" fill="#0f4aa3"/><circle cx="1051.8" cy="710.3" r="1.6" fill="#0f4aa3"/><circle cx="1055.4" cy="756.4" r="1.6" fill="#0f4aa3"/><circle cx="1060.5" cy="778.9" r="1.6" fill="#0f4aa3"/><circle cx="1061.6" cy="786.0" r="1.6" fill="#0f4aa3"/><circle cx="1061.8" cy="812.8" r="1.6" fill="#0f4aa3"/><polygon points="1125.5,979.8 1128.6,969.8 1130.5,968.0 1134.9,969.8 1136.7,972.3 1133.6,979.8 1129.9,986.0 1126.8,990.4" fill="#dc3450" stroke="#dc3450" stroke-width="0.8" stroke-linejoin="round" opacity="1"/><circle cx="1145.8" cy="906.2" r="1.6" fill="#d81e3c"/><circle cx="1144.2" cy="915.6" r="1.6" fill="#d81e3c"/><circle cx="1148.9" cy="918.7" r="1.6" fill="#d81e3c"/><circle cx="1144.9" cy="923.4" r="1.6" fill="#d81e3c"/><circle cx="1140.5" cy="923.7" r="1.6" fill="#d81e3c"/><circle cx="1139.9" cy="927.4" r="1.6" fill="#d81e3c"/><circle cx="1142.4" cy="934.9" r="1.6" fill="#d81e3c"/><circle cx="1139.9" cy="938.7" r="1.6" fill="#d81e3c"/><circle cx="1136.7" cy="944.9" r="1.6" fill="#d81e3c"/><circle cx="1133.6" cy="951.7" r="1.6" fill="#d81e3c"/><circle cx="1141.1" cy="951.1" r="1.6" fill="#d81e3c"/><circle cx="1136.7" cy="956.1" r="1.6" fill="#d81e3c"/><circle cx="1131.2" cy="964.5" r="1.6" fill="#d81e3c"/><circle cx="1134.2" cy="958.0" r="1.6" fill="#d81e3c"/><circle cx="1137.8" cy="948.0" r="1.6" fill="#d81e3c"/><circle cx="1135.5" cy="953.5" r="1.6" fill="#d81e3c"/><circle cx="1130.5" cy="966.5" r="1.6" fill="#d81e3c"/><circle cx="1132.4" cy="961.1" r="1.6" fill="#d81e3c"/><circle cx="1136.1" cy="962.3" r="1.6" fill="#d81e3c"/><circle cx="1138.0" cy="966.1" r="1.6" fill="#d81e3c"/><circle cx="1143.6" cy="938.7" r="1.6" fill="#d81e3c"/><circle cx="1142.4" cy="949.9" r="1.6" fill="#d81e3c"/><circle cx="1139.9" cy="959.2" r="1.6" fill="#d81e3c"/><circle cx="1152.1" cy="880.7" r="1.6" fill="#d81e3c"/><circle cx="1153.9" cy="886.3" r="1.6" fill="#d81e3c"/><circle cx="1179.6" cy="701.1" r="1.6" fill="#d81e3c"/><circle cx="1165.4" cy="777.3" r="1.6" fill="#d81e3c"/><circle cx="1162.8" cy="816.5" r="1.6" fill="#d81e3c"/><circle cx="1152.0" cy="881.0" r="1.6" fill="#d81e3c"/><circle cx="1145.6" cy="906.5" r="1.6" fill="#d81e3c"/>
<text transform="translate(842.17,614.60) scale(0.9953,1)" font-family='"Liberation Sans", sans-serif' font-size="28.15" fill="#000">Oc_salt_unpair VS control_unpair</text>
<circle cx="1006.0" cy="633.6" r="1.4" fill="#d7263d"/>
<circle cx="1074.8" cy="633.6" r="1.4" fill="#8f8f8f"/>
<circle cx="1144.5" cy="633.6" r="1.4" fill="#1d4f9c"/>
<text transform="translate(1025.10,641.40) scale(1.2722,1)" font-family='"Liberation Sans", sans-serif' font-size="20.56" fill="#000">up</text>
<text transform="translate(1095.40,641.40) scale(1.2451,1)" font-family='"Liberation Sans", sans-serif' font-size="20.56" fill="#000">no</text>
<text transform="translate(1165.13,641.40) scale(1.2351,1)" font-family='"Liberation Sans", sans-serif' font-size="20.56" fill="#000">down</text>
<text transform="translate(994.51,1056.90) scale(1.1180,1)" font-family='"Liberation Sans", sans-serif' font-size="22.49" fill="#000">log2 of Fold change</text>
<text transform="translate(788.70,907.75) scale(1.1181,1) rotate(-90)" font-family='"Liberation Sans", sans-serif' font-size="23.33" fill="#000">−log10 of qval</text>
<line x1="877" y1="104.0" x2="893.2" y2="104.0" stroke="#555" stroke-width="1.1"/>
<line x1="1044" y1="103.5" x2="1060.5" y2="103.5" stroke="#555" stroke-width="1.1"/>
<line x1="942" y1="616.8" x2="958.2" y2="616.8" stroke="#555" stroke-width="1.1"/>
<line x1="1166.2" y1="617.6" x2="1180.2" y2="617.6" stroke="#555" stroke-width="1.1"/>
<ellipse cx="241.63" cy="1477.57" rx="230.91" ry="108.58" transform="rotate(39.46 241.63 1477.57)" fill="none" stroke="#000" stroke-width="1.75"/>
<ellipse cx="344.00" cy="1424.80" rx="231.06" ry="108.65" transform="rotate(39.34 344.00 1424.80)" fill="none" stroke="#000" stroke-width="1.75"/>
<ellipse cx="367.50" cy="1424.80" rx="231.06" ry="108.65" transform="rotate(-39.34 367.50 1424.80)" fill="none" stroke="#000" stroke-width="1.75"/>
<ellipse cx="469.87" cy="1477.57" rx="230.91" ry="108.58" transform="rotate(-39.46 469.87 1477.57)" fill="none" stroke="#000" stroke-width="1.75"/>
<g transform="matrix(1.01294,0,0,1.0064,706.85,-6.54)">
<ellipse cx="241.63" cy="1477.57" rx="230.91" ry="108.58" transform="rotate(39.46 241.63 1477.57)" fill="none" stroke="#000" stroke-width="1.75" vector-effect="non-scaling-stroke"/>
<ellipse cx="344.00" cy="1424.80" rx="231.06" ry="108.65" transform="rotate(39.34 344.00 1424.80)" fill="none" stroke="#000" stroke-width="1.75" vector-effect="non-scaling-stroke"/>
<ellipse cx="367.50" cy="1424.80" rx="231.06" ry="108.65" transform="rotate(-39.34 367.50 1424.80)" fill="none" stroke="#000" stroke-width="1.75" vector-effect="non-scaling-stroke"/>
<ellipse cx="469.87" cy="1477.57" rx="230.91" ry="108.58" transform="rotate(-39.46 469.87 1477.57)" fill="none" stroke="#000" stroke-width="1.75" vector-effect="non-scaling-stroke"/>
</g>
<text transform="translate(35.24,1228.30) scale(0.9171,1)" font-family='"Liberation Sans", sans-serif' font-size="24.43" fill="#000">Os_control_pair VS unpair</text>
<text transform="translate(429.86,1226.80) scale(0.9598,1)" font-family='"Liberation Sans", sans-serif' font-size="22.91" fill="#000">Oc_salt_pair VS unpair</text>
<text transform="translate(4.68,1621.10) scale(0.9276,1)" font-family='"Liberation Sans", sans-serif' font-size="23.32" fill="#000">Os_salt_pair VS</text>
<text transform="translate(49.16,1650.20) scale(1.0170,1)" font-family='"Liberation Sans", sans-serif' font-size="23.32" fill="#000">unpair</text>
<text transform="translate(519.04,1619.60) scale(0.9506,1)" font-family='"Liberation Sans", sans-serif' font-size="23.46" fill="#000">Oc_control_pair VS</text>
<text transform="translate(582.37,1648.40) scale(1.0106,1)" font-family='"Liberation Sans", sans-serif' font-size="23.32" fill="#000">unpair</text>
<text transform="translate(822.86,1206.60) scale(0.9614,1)" font-family='"Liberation Sans", sans-serif' font-size="22.77" fill="#000">Os_salt_unpair VS</text>
<text transform="translate(838.70,1235.50) scale(1.0174,1)" font-family='"Liberation Sans", sans-serif' font-size="23.18" fill="#000">control_unpair</text>
<text transform="translate(1162.27,1206.00) scale(0.9300,1)" font-family='"Liberation Sans", sans-serif' font-size="23.32" fill="#000">Oc_salt_pair VS</text>
<text transform="translate(1178.40,1235.10) scale(1.0383,1)" font-family='"Liberation Sans", sans-serif' font-size="22.63" fill="#000">control_pair</text>
<text transform="translate(772.65,1613.80) scale(0.9328,1)" font-family='"Liberation Sans", sans-serif' font-size="23.87" fill="#000">Os_salt_pair</text>
<text transform="translate(823.12,1643.30) scale(0.8825,1)" font-family='"Liberation Sans", sans-serif' font-size="21.63" fill="#000">VS</text>
<text transform="translate(773.79,1672.40) scale(1.0272,1)" font-family='"Liberation Sans", sans-serif' font-size="23.05" fill="#000">control_pair</text>
<text transform="translate(1231.66,1623.80) scale(0.9413,1)" font-family='"Liberation Sans", sans-serif' font-size="23.32" fill="#000">Oc_salt_unpair VS</text>
<text transform="translate(1247.90,1653.40) scale(1.0100,1)" font-family='"Liberation Sans", sans-serif' font-size="23.32" fill="#000">control_unpair</text>
<text transform="translate(239.55,1294.50) scale(1.0000,1)" font-family='"Liberation Serif", serif' font-size="18.30" font-weight="bold" fill="#000">967</text>
<text transform="translate(228.88,1307.10) scale(1.3000,1)" font-family='"Liberation Serif", serif' font-size="11.00" font-weight="bold" fill="#000">(47.2%)</text>
<text transform="translate(444.21,1294.20) scale(1.0000,1)" font-family='"Liberation Serif", serif' font-size="18.30" font-weight="bold" fill="#000">144</text>
<text transform="translate(443.01,1306.80) scale(1.3000,1)" font-family='"Liberation Serif", serif' font-size="11.00" font-weight="bold" fill="#000">(7%)</text>
<text transform="translate(192.67,1362.10) scale(1.0000,1)" font-family='"Liberation Serif", serif' font-size="18.30" font-weight="bold" fill="#000">91</text>
<text transform="translate(180.75,1374.70) scale(1.3000,1)" font-family='"Liberation Serif", serif' font-size="11.00" font-weight="bold" fill="#000">(4.4%)</text>
<text transform="translate(346.80,1357.70) scale(1.0000,1)" font-family='"Liberation Serif", serif' font-size="18.30" font-weight="bold" fill="#000">29</text>
<text transform="translate(335.15,1370.30) scale(1.3000,1)" font-family='"Liberation Serif", serif' font-size="11.00" font-weight="bold" fill="#000">(1.4%)</text>
<text transform="translate(504.17,1362.10) scale(1.0000,1)" font-family='"Liberation Serif", serif' font-size="18.30" font-weight="bold" fill="#000">1</text>
<text transform="translate(493.51,1374.70) scale(1.3000,1)" font-family='"Liberation Serif", serif' font-size="11.00" font-weight="bold" fill="#000">(0%)</text>
<text transform="translate(119.72,1421.90) scale(1.0000,1)" font-family='"Liberation Serif", serif' font-size="18.30" font-weight="bold" fill="#000">774</text>
<text transform="translate(109.38,1434.50) scale(1.3000,1)" font-family='"Liberation Serif", serif' font-size="11.00" font-weight="bold" fill="#000">(37.8%)</text>
<text transform="translate(267.88,1437.70) scale(1.0000,1)" font-family='"Liberation Serif", serif' font-size="18.30" font-weight="bold" fill="#000">6</text>
<text transform="translate(251.65,1450.30) scale(1.3000,1)" font-family='"Liberation Serif", serif' font-size="11.00" font-weight="bold" fill="#000">(0.3%)</text>
<text transform="translate(434.93,1437.80) scale(1.0000,1)" font-family='"Liberation Serif", serif' font-size="18.30" font-weight="bold" fill="#000">0</text>
<text transform="translate(424.01,1450.40) scale(1.3000,1)" font-family='"Liberation Serif", serif' font-size="11.00" font-weight="bold" fill="#000">(0%)</text>
<text transform="translate(568.91,1421.90) scale(1.0000,1)" font-family='"Liberation Serif", serif' font-size="18.30" font-weight="bold" fill="#000">12</text>
<text transform="translate(557.55,1434.50) scale(1.3000,1)" font-family='"Liberation Serif", serif' font-size="11.00" font-weight="bold" fill="#000">(0.6%)</text>
<text transform="translate(351.07,1506.00) scale(1.0000,1)" font-family='"Liberation Serif", serif' font-size="18.30" font-weight="bold" fill="#000">1</text>
<text transform="translate(340.41,1518.60) scale(1.3000,1)" font-family='"Liberation Serif", serif' font-size="11.00" font-weight="bold" fill="#000">(0%)</text>
<text transform="translate(218.84,1520.60) scale(1.0000,1)" font-family='"Liberation Serif", serif' font-size="18.30" font-weight="bold" fill="#000">17</text>
<text transform="translate(207.65,1533.20) scale(1.3000,1)" font-family='"Liberation Serif", serif' font-size="11.00" font-weight="bold" fill="#000">(0.8%)</text>
<text transform="translate(478.37,1520.60) scale(1.0000,1)" font-family='"Liberation Serif", serif' font-size="18.30" font-weight="bold" fill="#000">1</text>
<text transform="translate(467.71,1533.20) scale(1.3000,1)" font-family='"Liberation Serif", serif' font-size="11.00" font-weight="bold" fill="#000">(0%)</text>
<text transform="translate(300.43,1559.20) scale(1.0000,1)" font-family='"Liberation Serif", serif' font-size="18.30" font-weight="bold" fill="#000">0</text>
<text transform="translate(289.51,1571.80) scale(1.3000,1)" font-family='"Liberation Serif", serif' font-size="11.00" font-weight="bold" fill="#000">(0%)</text>
<text transform="translate(402.43,1559.20) scale(1.0000,1)" font-family='"Liberation Serif", serif' font-size="18.30" font-weight="bold" fill="#000">0</text>
<text transform="translate(391.51,1571.80) scale(1.3000,1)" font-family='"Liberation Serif", serif' font-size="11.00" font-weight="bold" fill="#000">(0%)</text>
<text transform="translate(351.37,1603.20) scale(1.0000,1)" font-family='"Liberation Serif", serif' font-size="18.30" font-weight="bold" fill="#000">4</text>
<text transform="translate(335.05,1615.80) scale(1.3000,1)" font-family='"Liberation Serif", serif' font-size="11.00" font-weight="bold" fill="#000">(0.2%)</text>
<text transform="translate(946.33,1296.60) scale(1.0800,1)" font-family='"Liberation Serif", serif' font-size="15.80" font-weight="bold" fill="#000">3045</text>
<text transform="translate(942.96,1307.90) scale(1.3300,1)" font-family='"Liberation Serif", serif' font-size="9.00" font-weight="bold" fill="#000">(76.8%)</text>
<text transform="translate(1156.73,1296.40) scale(1.0800,1)" font-family='"Liberation Serif", serif' font-size="15.80" font-weight="bold" fill="#000">107</text>
<text transform="translate(1152.55,1307.70) scale(1.3300,1)" font-family='"Liberation Serif", serif' font-size="9.00" font-weight="bold" fill="#000">(2.7%)</text>
<text transform="translate(898.75,1365.00) scale(1.0800,1)" font-family='"Liberation Serif", serif' font-size="15.80" font-weight="bold" fill="#000">372</text>
<text transform="translate(894.05,1376.30) scale(1.3300,1)" font-family='"Liberation Serif", serif' font-size="9.00" font-weight="bold" fill="#000">(9.4%)</text>
<text transform="translate(1057.76,1359.00) scale(1.0800,1)" font-family='"Liberation Serif", serif' font-size="15.80" font-weight="bold" fill="#000">78</text>
<text transform="translate(1053.54,1370.30) scale(1.3300,1)" font-family='"Liberation Serif", serif' font-size="9.00" font-weight="bold" fill="#000">(2%)</text>
<text transform="translate(1216.95,1364.00) scale(1.0800,1)" font-family='"Liberation Serif", serif' font-size="15.80" font-weight="bold" fill="#000">7</text>
<text transform="translate(1204.05,1375.30) scale(1.3300,1)" font-family='"Liberation Serif", serif' font-size="9.00" font-weight="bold" fill="#000">(0.2%)</text>
<text transform="translate(830.55,1425.00) scale(1.0800,1)" font-family='"Liberation Serif", serif' font-size="15.80" font-weight="bold" fill="#000">267</text>
<text transform="translate(826.05,1436.30) scale(1.3300,1)" font-family='"Liberation Serif", serif' font-size="9.00" font-weight="bold" fill="#000">(6.7%)</text>
<text transform="translate(973.57,1440.00) scale(1.0800,1)" font-family='"Liberation Serif", serif' font-size="15.80" font-weight="bold" fill="#000">18</text>
<text transform="translate(965.05,1451.30) scale(1.3300,1)" font-family='"Liberation Serif", serif' font-size="9.00" font-weight="bold" fill="#000">(0.5%)</text>
<text transform="translate(1146.70,1440.00) scale(1.0800,1)" font-family='"Liberation Serif", serif' font-size="15.80" font-weight="bold" fill="#000">3</text>
<text transform="translate(1133.55,1451.30) scale(1.3300,1)" font-family='"Liberation Serif", serif' font-size="9.00" font-weight="bold" fill="#000">(0.1%)</text>
<text transform="translate(1281.43,1425.00) scale(1.0800,1)" font-family='"Liberation Serif", serif' font-size="15.80" font-weight="bold" fill="#000">38</text>
<text transform="translate(1277.04,1436.30) scale(1.3300,1)" font-family='"Liberation Serif", serif' font-size="9.00" font-weight="bold" fill="#000">(1%)</text>
<text transform="translate(1061.94,1508.70) scale(1.0800,1)" font-family='"Liberation Serif", serif' font-size="15.80" font-weight="bold" fill="#000">2</text>
<text transform="translate(1048.75,1520.00) scale(1.3300,1)" font-family='"Liberation Serif", serif' font-size="9.00" font-weight="bold" fill="#000">(0.1%)</text>
<text transform="translate(933.28,1523.50) scale(1.0800,1)" font-family='"Liberation Serif", serif' font-size="15.80" font-weight="bold" fill="#000">4</text>
<text transform="translate(920.05,1534.80) scale(1.3300,1)" font-family='"Liberation Serif", serif' font-size="9.00" font-weight="bold" fill="#000">(0.1%)</text>
<text transform="translate(1188.03,1523.50) scale(1.0800,1)" font-family='"Liberation Serif", serif' font-size="15.80" font-weight="bold" fill="#000">16</text>
<text transform="translate(1179.55,1534.80) scale(1.3300,1)" font-family='"Liberation Serif", serif' font-size="9.00" font-weight="bold" fill="#000">(0.4%)</text>
<text transform="translate(1010.69,1563.50) scale(1.0800,1)" font-family='"Liberation Serif", serif' font-size="15.80" font-weight="bold" fill="#000">1</text>
<text transform="translate(1002.24,1574.80) scale(1.3300,1)" font-family='"Liberation Serif", serif' font-size="9.00" font-weight="bold" fill="#000">(0%)</text>
<text transform="translate(1114.43,1563.50) scale(1.0800,1)" font-family='"Liberation Serif", serif' font-size="15.80" font-weight="bold" fill="#000">8</text>
<text transform="translate(1101.25,1574.80) scale(1.3300,1)" font-family='"Liberation Serif", serif' font-size="9.00" font-weight="bold" fill="#000">(0.2%)</text>
<text transform="translate(1062.73,1606.80) scale(1.0800,1)" font-family='"Liberation Serif", serif' font-size="15.80" font-weight="bold" fill="#000">0</text>
<text transform="translate(1054.04,1618.10) scale(1.3300,1)" font-family='"Liberation Serif", serif' font-size="9.00" font-weight="bold" fill="#000">(0%)</text>
</svg></body></html>
